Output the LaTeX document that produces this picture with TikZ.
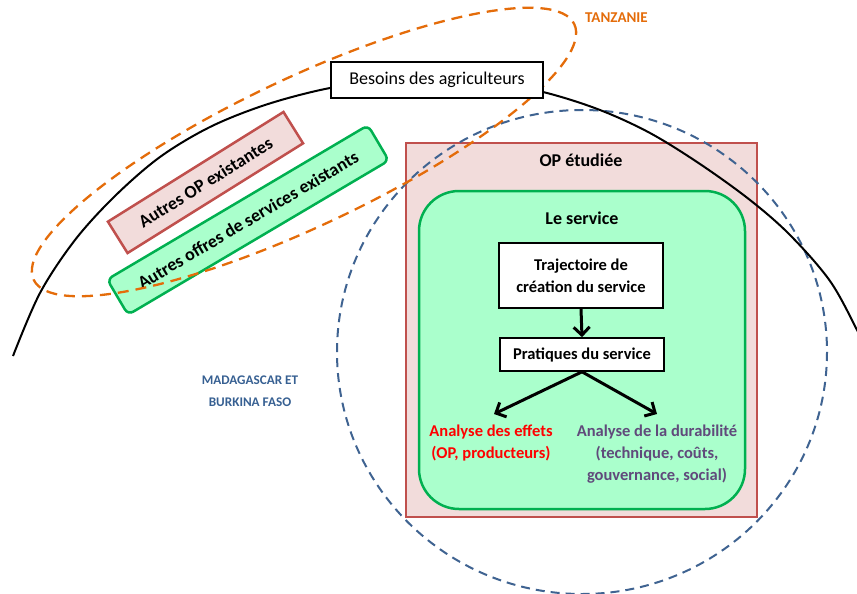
\documentclass[tikz,border=0pt]{standalone}
\usepackage{fontspec}
\setmainfont{Carlito}
\usetikzlibrary{arrows.meta,calc}
\definecolor{pinkfill}{HTML}{F2DCDB}
\definecolor{pinkdraw}{HTML}{C0504D}
\definecolor{mint}{HTML}{AAFFCC}
\definecolor{greendraw}{HTML}{00B050}
\definecolor{orangeline}{HTML}{E46C0A}
\definecolor{blueline}{HTML}{3F6391}
\definecolor{bluetext}{HTML}{376092}
\definecolor{purpletext}{HTML}{604A7B}
\definecolor{redtext}{HTML}{FF0000}
\tikzset{
  opbox/.style={draw=pinkdraw, fill=pinkfill, line width=2.5pt},
  servbox/.style={draw=greendraw, fill=mint, line width=2.5pt, rounded corners=40pt},
  whitebox/.style={draw=black, fill=white, line width=1.6pt, inner sep=0pt, align=center,
    font=\fontsize{16.5}{22}\selectfont\bfseries},
  slantpink/.style={draw=pinkdraw, fill=pinkfill, line width=2.5pt, inner sep=0pt,
    font=\fontsize{18}{20}\selectfont\bfseries},
  slantgreen/.style={draw=greendraw, fill=mint, line width=2.5pt, rounded corners=6pt, inner sep=0pt,
    font=\fontsize{18}{20}\selectfont\bfseries},
  lbl/.style={font=\fontsize{16.5}{22}\selectfont\bfseries, align=center, inner sep=0pt},
  biglbl/.style={font=\fontsize{18}{22}\selectfont\bfseries, align=center, inner sep=0pt},
  bigarrow/.style={line width=3pt, -{Straight Barb[length=8pt,width=16pt]}},
  orangedash/.style={draw=orangeline, line width=2.3pt, dash pattern=on 11pt off 7pt},
  bluedash/.style={draw=blueline, line width=2pt, dash pattern=on 9pt off 6pt},
  blackcurve/.style={draw=black, line width=2pt},
}
\begin{document}
\begin{tikzpicture}[x=1pt,y=-1pt]
\useasboundingbox (0,0) rectangle (857,594);
\clip (0,0) rectangle (857,594);
% main boxes
\node[opbox, minimum width=351pt, minimum height=374pt] (op) at (581.5,330) {};
\node[biglbl] (optxt) at (581,160) {OP étudiée};
\node[servbox, minimum width=326pt, minimum height=318pt] (serv) at (582,350) {};
\node[biglbl] (servtxt) at (582,218) {Le service};
\node[whitebox, minimum width=164pt, minimum height=65pt] (traj) at (581,275.5) {Trajectoire de\\création du service};
\node[whitebox, minimum width=164pt, minimum height=33pt] (prat) at (582,354.5) {Pratiques du service};
\coordinate (effTip) at (494,414);
\coordinate (durTip) at (657,414);
\draw[bigarrow] (traj.south) -- (prat.north);
\draw[bigarrow] (prat.south) -- (effTip);
\draw[bigarrow] (prat.south) -- (durTip);
\node[lbl, text=redtext] (eff) at (491,443) {Analyse des effets\\(OP, producteurs)};
\node[lbl, text=purpletext] (dur) at (657,454.5) {Analyse de la durabilité\\(technique, coûts,\\gouvernance, social)};
% slanted boxes
\node[slantpink, rotate=32, minimum width=207pt, minimum height=37pt] (autresop) at (205.5,182.5) {Autres OP existantes};
\node[slantgreen, rotate=30.6, minimum width=303pt, minimum height=41pt] (autresoff) at (248,220) {Autres offres de services existants};
% regions
\draw[bluedash] (582,352) ellipse [x radius=245, y radius=242];
\draw[orangedash, rotate around={25.3:(304,152)}] (304,152) ellipse [x radius=299, y radius=74];
\draw[blackcurve] plot[smooth, tension=0.55] coordinates {(13,356) (40,293) (75,240) (115,196) (160,157) (210,127) (265,105) (325,89) (385,80) (440,78) (495,83) (547,93) (600,110) (650,133) (700,164) (750,200) (790,235) (830,281) (857,330) (872,362)};
\node[draw=black, fill=white, line width=2pt, minimum width=212pt, minimum height=36pt, inner sep=0pt,
  font=\fontsize{18}{22}\selectfont] (besoins) at (437,80) {Besoins des agriculteurs};
% region labels
\node[font=\fontsize{15}{20}\selectfont\bfseries, text=orangeline, inner sep=0pt] (tz) at (616.5,18) {TANZANIE};
\node[font=\fontsize{13.2}{22}\selectfont\bfseries, text=bluetext, align=center, inner sep=0pt] (mb) at (250,391) {MADAGASCAR ET\\BURKINA FASO};
\end{tikzpicture}
\end{document}
